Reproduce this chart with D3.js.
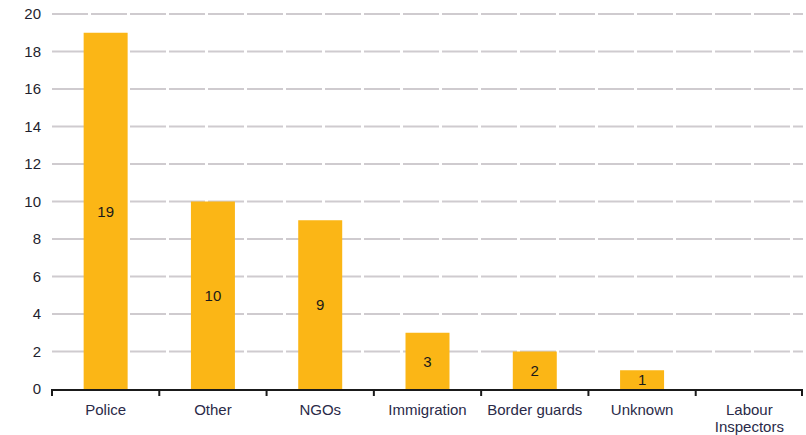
<!DOCTYPE html>
<html>
<head>
<meta charset="utf-8">
<script src="https://cdn.jsdelivr.net/npm/d3@7"></script>
<style>
  body { margin: 0; background: #fff; }
  svg { font-family: "Liberation Sans", Arial, sans-serif; }
</style>
</head>
<body>
<svg id="chart" width="806" height="435"></svg>
<script>
let categories = ["Police", "Other", "NGOs", "Immigration", "Border guards", "Unknown", "Labour\nInspectors"]
let values = [19, 10, 9, 3, 2, 1, 0]
let yTicks = [0, 2, 4, 6, 8, 10, 12, 14, 16, 18, 20]

let width = 806
let height = 435
let margin = { top: 14, right: 3, bottom: 46, left: 52 }

let svg = d3.select("#chart")

let xScale = d3.scaleBand()
    .domain(categories)
    .range([margin.left, width - margin.right])
    .paddingInner(0.59)
    .paddingOuter(0.295)

let band = d3.scaleBand()
    .domain(categories)
    .range([margin.left, width - margin.right])

let yScale = d3.scaleLinear()
    .domain([0, 20])
    .range([height - margin.bottom, margin.top])

// 网格线
svg.append("g")
    .selectAll("line")
    .data(yTicks.filter(d => d > 0))
    .enter()
    .append("line")
    .attr("x1", margin.left)
    .attr("x2", width - margin.right)
    .attr("y1", d => yScale(d))
    .attr("y2", d => yScale(d))
    .attr("stroke", "#cfcbcf")
    .attr("stroke-width", 2)
    .attr("stroke-dasharray", "36,3")

// y轴标签
svg.append("g")
    .selectAll("text")
    .data(yTicks)
    .enter()
    .append("text")
    .attr("x", 41)
    .attr("y", d => yScale(d))
    .attr("dy", "0.35em")
    .attr("text-anchor", "end")
    .attr("font-size", "15px")
    .attr("fill", "#1f1f2e")
    .text(d => d)

// 柱子
svg.append("g")
    .selectAll("rect")
    .data(values)
    .enter()
    .append("rect")
    .attr("x", (d, i) => xScale(categories[i]))
    .attr("y", d => yScale(d))
    .attr("width", xScale.bandwidth())
    .attr("height", d => yScale(0) - yScale(d))
    .attr("fill", "#fbb616")

// 数值标签
svg.append("g")
    .selectAll("text")
    .data(values.map((v, i) => ({ key: categories[i], value: v })).filter(d => d.value > 0))
    .enter()
    .append("text")
    .attr("x", d => xScale(d.key) + xScale.bandwidth() / 2)
    .attr("y", d => (yScale(d.value) + yScale(0)) / 2)
    .attr("dy", "0.38em")
    .attr("text-anchor", "middle")
    .attr("font-size", "15px")
    .attr("fill", "#1a1a1a")
    .text(d => d.value)

// x轴
let xAxis = svg.append("g")
let y0 = yScale(0)
xAxis.append("line")
    .attr("x1", margin.left)
    .attr("x2", width - margin.right)
    .attr("y1", y0 + 1)
    .attr("y2", y0 + 1)
    .attr("stroke", "#1a1a1a")
    .attr("stroke-width", 2)

xAxis.selectAll(".tick")
    .data(categories.concat(["end"]))
    .enter()
    .append("line")
    .attr("x1", (d, i) => i < categories.length ? band(d) : width - margin.right - 1)
    .attr("x2", (d, i) => i < categories.length ? band(d) : width - margin.right - 1)
    .attr("y1", y0)
    .attr("y2", y0 + 7)
    .attr("stroke", "#1a1a1a")
    .attr("stroke-width", 2)

xAxis.selectAll(".lab")
    .data(categories)
    .enter()
    .append("text")
    .attr("text-anchor", "middle")
    .attr("font-size", "15px")
    .attr("fill", "#2a2a48")
    .attr("x", d => band(d) + band.bandwidth() / 2)
    .attr("y", 415)
    .each(function (d) {
        let lines = d.split("\n")
        let t = d3.select(this)
        lines.forEach((l, k) => {
            t.append("tspan")
                .attr("x", band(d) + band.bandwidth() / 2)
                .attr("dy", k === 0 ? 0 : "1.1em")
                .text(l)
        })
    })
</script>
</body>
</html>
